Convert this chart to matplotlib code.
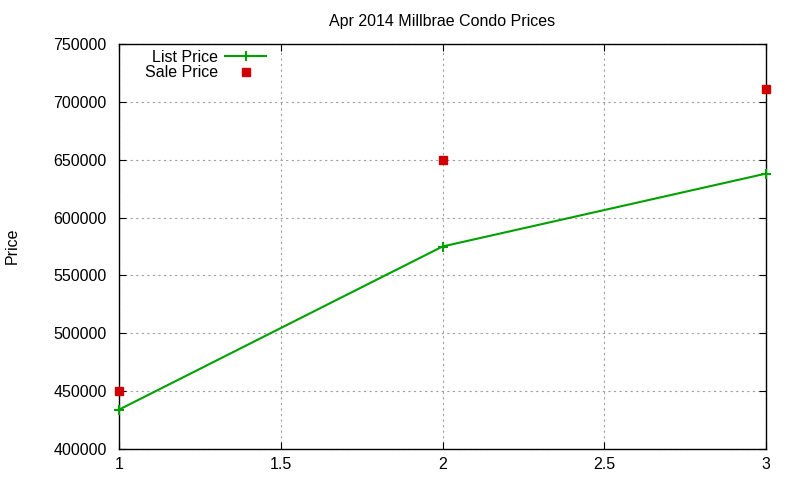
import matplotlib
matplotlib.use("Agg")
import matplotlib.pyplot as plt

x = [1, 2, 3]
list_price = [434000, 575000, 638000]
sale_price = [450000, 650000, 711000]
title = "Apr 2014 Millbrae Condo Prices"

plt.rcParams['font.family'] = ['Liberation Sans', 'DejaVu Sans']
fig = plt.figure(figsize=(8, 4.8), dpi=100)
ax = fig.add_axes([119/800, 31/480, (766-119)/800, (449-44)/480])

ax.plot(x, list_price, color='#00a000', lw=1.5, marker='+', ms=7, mew=1.5,
        label='List Price', clip_on=False, zorder=3)
ax.plot(x, sale_price, color='#d00000', ls='none', marker='s', ms=6,
        label='Sale Price', clip_on=False, zorder=4)

ax.set_xlim(1, 3)
ax.set_ylim(400000, 750000)
ax.set_xticks([1, 1.5, 2, 2.5, 3])
ax.set_xticklabels(['1', '1.5', '2', '2.5', '3'])
ax.set_yticks(range(400000, 750001, 50000))
ax.grid(True, color='#a0a0a0', ls=(0, (2, 3)), lw=0.8)
ax.tick_params(direction='in', length=5, labelsize=11.5, top=True, right=True,
               labeltop=False, labelright=False)
ax.tick_params(axis='y', pad=9)
ax.tick_params(axis='x', pad=6)
for s in ax.spines.values():
    s.set_linewidth(1.0)
fig.text(12/800, 1 - 246/480, 'Price', rotation=90, ha='center', va='center',
         fontsize=11.5)
ax.set_title(title, fontsize=11.5, pad=13)

leg = ax.legend(loc='upper right', bbox_to_anchor=((268-119)/647, 1 - 4/405),
                frameon=False, markerfirst=False, fontsize=11.5,
                handlelength=2.6, borderaxespad=0.0, borderpad=0.1,
                labelspacing=0.05, handletextpad=0.4)
for t in leg.get_texts():
    t.set_ha('right')

fig.savefig('out.png', dpi=100)
